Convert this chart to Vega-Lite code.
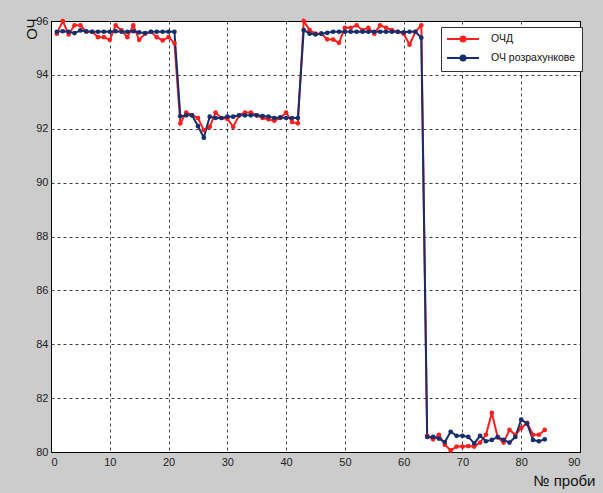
{
  "$schema": "https://vega.github.io/schema/vega-lite/v6.json",
  "width": 529,
  "height": 431,
  "autosize": {"type": "none"},
  "padding": {"left": 51, "top": 21, "right": 23, "bottom": 41},
  "background": "#cccccc",
  "config": {
    "view": {"fill": "white", "stroke": "#000000", "strokeWidth": 1},
    "font": "Liberation Sans",
    "axis": {
      "labelFont": "Liberation Sans",
      "labelFontSize": 11,
      "labelColor": "#222222",
      "grid": true,
      "gridColor": "#000000",
      "gridOpacity": 0.75,
      "gridDash": [3, 3],
      "gridWidth": 1,
      "domain": false,
      "ticks": false,
      "titleFont": "Liberation Sans",
      "titleFontWeight": "normal",
      "titleColor": "#111111"
    }
  },
  "datasets": {
    "d": [
      {"n":1,"v":95.53,"s":"ОЧД"},{"n":2,"v":96.0,"s":"ОЧД"},{"n":3,"v":95.5,"s":"ОЧД"},{"n":4,"v":95.84,"s":"ОЧД"},{"n":5,"v":95.84,"s":"ОЧД"},
      {"n":6,"v":95.6,"s":"ОЧД"},{"n":7,"v":95.6,"s":"ОЧД"},{"n":8,"v":95.4,"s":"ОЧД"},{"n":9,"v":95.4,"s":"ОЧД"},{"n":10,"v":95.3,"s":"ОЧД"},
      {"n":11,"v":95.84,"s":"ОЧД"},{"n":12,"v":95.65,"s":"ОЧД"},{"n":13,"v":95.4,"s":"ОЧД"},{"n":14,"v":95.84,"s":"ОЧД"},{"n":15,"v":95.3,"s":"ОЧД"},
      {"n":16,"v":95.53,"s":"ОЧД"},{"n":17,"v":95.6,"s":"ОЧД"},{"n":18,"v":95.4,"s":"ОЧД"},{"n":19,"v":95.28,"s":"ОЧД"},{"n":20,"v":95.4,"s":"ОЧД"},
      {"n":21,"v":95.18,"s":"ОЧД"},{"n":22,"v":92.2,"s":"ОЧД"},{"n":23,"v":92.6,"s":"ОЧД"},{"n":24,"v":92.5,"s":"ОЧД"},{"n":25,"v":92.4,"s":"ОЧД"},
      {"n":26,"v":91.95,"s":"ОЧД"},{"n":27,"v":92.07,"s":"ОЧД"},{"n":28,"v":92.6,"s":"ОЧД"},{"n":29,"v":92.4,"s":"ОЧД"},{"n":30,"v":92.37,"s":"ОЧД"},
      {"n":31,"v":92.07,"s":"ОЧД"},{"n":32,"v":92.5,"s":"ОЧД"},{"n":33,"v":92.6,"s":"ОЧД"},{"n":34,"v":92.6,"s":"ОЧД"},{"n":35,"v":92.5,"s":"ОЧД"},
      {"n":36,"v":92.4,"s":"ОЧД"},{"n":37,"v":92.35,"s":"ОЧД"},{"n":38,"v":92.3,"s":"ОЧД"},{"n":39,"v":92.4,"s":"ОЧД"},{"n":40,"v":92.6,"s":"ОЧД"},
      {"n":41,"v":92.25,"s":"ОЧД"},{"n":42,"v":92.2,"s":"ОЧД"},{"n":43,"v":96.0,"s":"ОЧД"},{"n":44,"v":95.66,"s":"ОЧД"},{"n":45,"v":95.53,"s":"ОЧД"},
      {"n":46,"v":95.53,"s":"ОЧД"},{"n":47,"v":95.32,"s":"ОЧД"},{"n":48,"v":95.31,"s":"ОЧД"},{"n":49,"v":95.19,"s":"ОЧД"},{"n":50,"v":95.75,"s":"ОЧД"},
      {"n":51,"v":95.75,"s":"ОЧД"},{"n":52,"v":95.84,"s":"ОЧД"},{"n":53,"v":95.66,"s":"ОЧД"},{"n":54,"v":95.75,"s":"ОЧД"},{"n":55,"v":95.53,"s":"ОЧД"},
      {"n":56,"v":95.84,"s":"ОЧД"},{"n":57,"v":95.75,"s":"ОЧД"},{"n":58,"v":95.66,"s":"ОЧД"},{"n":59,"v":95.6,"s":"ОЧД"},{"n":60,"v":95.53,"s":"ОЧД"},
      {"n":61,"v":95.12,"s":"ОЧД"},{"n":62,"v":95.6,"s":"ОЧД"},{"n":63,"v":95.84,"s":"ОЧД"},{"n":64,"v":80.6,"s":"ОЧД"},{"n":65,"v":80.47,"s":"ОЧД"},
      {"n":66,"v":80.64,"s":"ОЧД"},{"n":67,"v":80.27,"s":"ОЧД"},{"n":68,"v":80.06,"s":"ОЧД"},{"n":69,"v":80.2,"s":"ОЧД"},{"n":70,"v":80.2,"s":"ОЧД"},
      {"n":71,"v":80.22,"s":"ОЧД"},{"n":72,"v":80.2,"s":"ОЧД"},{"n":73,"v":80.35,"s":"ОЧД"},{"n":74,"v":80.64,"s":"ОЧД"},{"n":75,"v":81.45,"s":"ОЧД"},
      {"n":76,"v":80.55,"s":"ОЧД"},{"n":77,"v":80.35,"s":"ОЧД"},{"n":78,"v":80.82,"s":"ОЧД"},{"n":79,"v":80.64,"s":"ОЧД"},{"n":80,"v":80.89,"s":"ОЧД"},
      {"n":81,"v":81.08,"s":"ОЧД"},{"n":82,"v":80.64,"s":"ОЧД"},{"n":83,"v":80.64,"s":"ОЧД"},{"n":84,"v":80.82,"s":"ОЧД"},
      {"n":1,"v":95.6,"s":"ОЧ розрахункове"},{"n":2,"v":95.62,"s":"ОЧ розрахункове"},{"n":3,"v":95.6,"s":"ОЧ розрахункове"},{"n":4,"v":95.55,"s":"ОЧ розрахункове"},{"n":5,"v":95.65,"s":"ОЧ розрахункове"},
      {"n":6,"v":95.62,"s":"ОЧ розрахункове"},{"n":7,"v":95.6,"s":"ОЧ розрахункове"},{"n":8,"v":95.6,"s":"ОЧ розрахункове"},{"n":9,"v":95.6,"s":"ОЧ розрахункове"},{"n":10,"v":95.6,"s":"ОЧ розрахункове"},
      {"n":11,"v":95.62,"s":"ОЧ розрахункове"},{"n":12,"v":95.6,"s":"ОЧ розрахункове"},{"n":13,"v":95.6,"s":"ОЧ розрахункове"},{"n":14,"v":95.62,"s":"ОЧ розрахункове"},{"n":15,"v":95.58,"s":"ОЧ розрахункове"},
      {"n":16,"v":95.55,"s":"ОЧ розрахункове"},{"n":17,"v":95.6,"s":"ОЧ розрахункове"},{"n":18,"v":95.6,"s":"ОЧ розрахункове"},{"n":19,"v":95.6,"s":"ОЧ розрахункове"},{"n":20,"v":95.6,"s":"ОЧ розрахункове"},
      {"n":21,"v":95.6,"s":"ОЧ розрахункове"},{"n":22,"v":92.46,"s":"ОЧ розрахункове"},{"n":23,"v":92.5,"s":"ОЧ розрахункове"},{"n":24,"v":92.5,"s":"ОЧ розрахункове"},{"n":25,"v":92.1,"s":"ОЧ розрахункове"},
      {"n":26,"v":91.67,"s":"ОЧ розрахункове"},{"n":27,"v":92.45,"s":"ОЧ розрахункове"},{"n":28,"v":92.4,"s":"ОЧ розрахункове"},{"n":29,"v":92.4,"s":"ОЧ розрахункове"},{"n":30,"v":92.45,"s":"ОЧ розрахункове"},
      {"n":31,"v":92.45,"s":"ОЧ розрахункове"},{"n":32,"v":92.5,"s":"ОЧ розрахункове"},{"n":33,"v":92.5,"s":"ОЧ розрахункове"},{"n":34,"v":92.5,"s":"ОЧ розрахункове"},{"n":35,"v":92.5,"s":"ОЧ розрахункове"},
      {"n":36,"v":92.47,"s":"ОЧ розрахункове"},{"n":37,"v":92.45,"s":"ОЧ розрахункове"},{"n":38,"v":92.4,"s":"ОЧ розрахункове"},{"n":39,"v":92.42,"s":"ОЧ розрахункове"},{"n":40,"v":92.4,"s":"ОЧ розрахункове"},
      {"n":41,"v":92.4,"s":"ОЧ розрахункове"},{"n":42,"v":92.4,"s":"ОЧ розрахункове"},{"n":43,"v":95.66,"s":"ОЧ розрахункове"},{"n":44,"v":95.53,"s":"ОЧ розрахункове"},{"n":45,"v":95.5,"s":"ОЧ розрахункове"},
      {"n":46,"v":95.53,"s":"ОЧ розрахункове"},{"n":47,"v":95.56,"s":"ОЧ розрахункове"},{"n":48,"v":95.6,"s":"ОЧ розрахункове"},{"n":49,"v":95.6,"s":"ОЧ розрахункове"},{"n":50,"v":95.6,"s":"ОЧ розрахункове"},
      {"n":51,"v":95.6,"s":"ОЧ розрахункове"},{"n":52,"v":95.6,"s":"ОЧ розрахункове"},{"n":53,"v":95.6,"s":"ОЧ розрахункове"},{"n":54,"v":95.6,"s":"ОЧ розрахункове"},{"n":55,"v":95.6,"s":"ОЧ розрахункове"},
      {"n":56,"v":95.6,"s":"ОЧ розрахункове"},{"n":57,"v":95.6,"s":"ОЧ розрахункове"},{"n":58,"v":95.6,"s":"ОЧ розрахункове"},{"n":59,"v":95.6,"s":"ОЧ розрахункове"},{"n":60,"v":95.58,"s":"ОЧ розрахункове"},
      {"n":61,"v":95.6,"s":"ОЧ розрахункове"},{"n":62,"v":95.6,"s":"ОЧ розрахункове"},{"n":63,"v":95.38,"s":"ОЧ розрахункове"},{"n":64,"v":80.56,"s":"ОЧ розрахункове"},{"n":65,"v":80.56,"s":"ОЧ розрахункове"},
      {"n":66,"v":80.5,"s":"ОЧ розрахункове"},{"n":67,"v":80.37,"s":"ОЧ розрахункове"},{"n":68,"v":80.75,"s":"ОЧ розрахункове"},{"n":69,"v":80.6,"s":"ОЧ розрахункове"},{"n":70,"v":80.6,"s":"ОЧ розрахункове"},
      {"n":71,"v":80.56,"s":"ОЧ розрахункове"},{"n":72,"v":80.32,"s":"ОЧ розрахункове"},{"n":73,"v":80.6,"s":"ОЧ розрахункове"},{"n":74,"v":80.4,"s":"ОЧ розрахункове"},{"n":75,"v":80.45,"s":"ОЧ розрахункове"},
      {"n":76,"v":80.55,"s":"ОЧ розрахункове"},{"n":77,"v":80.45,"s":"ОЧ розрахункове"},{"n":78,"v":80.35,"s":"ОЧ розрахункове"},{"n":79,"v":80.56,"s":"ОЧ розрахункове"},{"n":80,"v":81.2,"s":"ОЧ розрахункове"},
      {"n":81,"v":81.05,"s":"ОЧ розрахункове"},{"n":82,"v":80.45,"s":"ОЧ розрахункове"},{"n":83,"v":80.4,"s":"ОЧ розрахункове"},{"n":84,"v":80.47,"s":"ОЧ розрахункове"}
    ]
  },
  "data": {"name": "d"},
  "mark": {"type": "line", "strokeWidth": 2, "point": {"filled": true, "size": 22}},
  "encoding": {
    "x": {
      "field": "n", "type": "quantitative",
      "scale": {"domain": [0, 90], "nice": false},
      "axis": {
        "values": [0, 10, 20, 30, 40, 50, 60, 70, 80, 90],
        "labelPadding": 4,
        "title": "№ проби",
        "titleFontSize": 15,
        "titleX": 544,
        "titleY": 33,
        "titleAlign": "right",
        "titleBaseline": "alphabetic",
        "titleAnchor": null
      }
    },
    "y": {
      "field": "v", "type": "quantitative",
      "scale": {"domain": [80, 96], "nice": false, "zero": false},
      "axis": {
        "values": [80, 82, 84, 86, 88, 90, 92, 94, 96],
        "labelPadding": 3,
        "title": "ОЧ",
        "titleFontSize": 15,
        "titleAngle": -90,
        "titleX": -15,
        "titleY": -3,
        "titleAlign": "right",
        "titleBaseline": "alphabetic",
        "titleAnchor": null
      }
    },
    "color": {
      "field": "s", "type": "nominal",
      "sort": ["ОЧД", "ОЧ розрахункове"],
      "scale": {"domain": ["ОЧД", "ОЧ розрахункове"], "range": ["#ff1f1f", "#142f6c"]},
      "legend": {
        "title": null,
        "orient": "none",
        "legendX": 390,
        "legendY": 6,
        "fillColor": "white",
        "strokeColor": "#333333",
        "padding": 6,
        "rowPadding": 5,
        "cornerRadius": 0,
        "labelFont": "Liberation Sans",
        "labelFontSize": 10.5,
        "labelColor": "#111111",
        "labelLimit": 200,
        "symbolType": "M-3.2,0H3.2M-0.5,0A0.5,0.5 0 1,0 0.5,0A0.5,0.5 0 1,0 -0.5,0",
        "symbolSize": 100,
        "symbolStrokeWidth": 2,
        "symbolOffset": 10,
        "labelOffset": 22,
        "encode": {
          "symbols": {
            "update": {
              "fill": {"scale": "color", "field": "value"},
              "stroke": {"scale": "color", "field": "value"},
              "fillOpacity": {"value": 1}
            }
          }
        }
      }
    }
  }
}
